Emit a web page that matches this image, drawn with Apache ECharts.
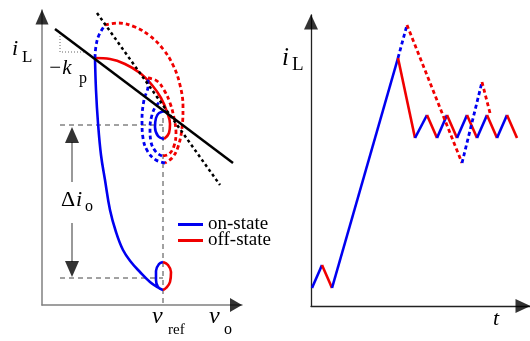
<!DOCTYPE html>
<html>
<head>
<meta charset="utf-8">
<script src="https://cdn.jsdelivr.net/npm/echarts@6/dist/echarts.min.js"></script>
<style>
  html, body { margin: 0; padding: 0; background: #fff; }
  #chart { width: 530px; height: 341px; }
</style>
</head>
<body>
<div id="chart"></div>
<script>
  // ---- left panel: phase plane (v_o, i_L), units ----
  var onSolid = [[53,247],[54,215],[56,182],[59,150],[63,125],[68,95],[74,73],[81,55],[89,43],[98,33],[108,23],[115,18],[121,15],[116,18],[114,25],[114,34],[117,41],[121,43]];
  var offSolidLoop = [[121,43],[126,40],[129,33],[128,23],[124,17],[121,15]];
  var offSolidArc = [[53,247],[68,246],[83,241],[98,232],[110,220],[119,207],[125,193],[128,181],[127,172],[122,166]];
  var onSolidLoop = [[122,166],[116,169],[113,178],[114,187],[117,192],[124,194]];
  var onDashOuter = [[53,247],[54,259],[57,270],[63,280]];
  var offDashOuter = [[63,280],[76,282],[93,278],[108,269],[121,256],[131,240],[138,220],[141,198],[140,177],[136,158],[130,147],[123,142]];
  var onDashMid = [[123,142],[114,145],[106,153],[101,167],[100,185],[102,205],[106,219],[106,227]];
  var offDashMid = [[106,227],[115,224],[122,215],[128,202],[132,187],[134,172],[132,159],[127,151],[120,149]];
  var onDashInner = [[120,149],[114,153],[109,163],[108,177],[110,190],[114,199],[119,204]];
  var droopLine = [[13,276],[191,142]];
  var dottedLine = [[55,292],[178,120]];
  var slopeMark = [[18,272],[18,253],[43,253]];
  var refGuides = [
    [[18,180],[121,180]],
    [[18,27],[121,27]],
    [[121,187],[121,0]]
  ];
  var deltaShafts = [[[30,123],[30,163]], [[30,82],[30,43]]];

  // ---- right panel: i_L(t) ----
  var solidT = [1,11,21,87,104,116,126,136,146,156,166,176,186,196,206];
  var solidI = [18,41,18,248,168,191,168,191,168,191,168,191,168,191,168];
  var dashT = [87,96,151,171,179];
  var dashI = [248,281,143,224,193];

  var BLUE = '#0000f0';
  var RED = '#f00000';

  function curve(name, pts, color, axis, opt) {
    opt = opt || {};
    return {
      type: 'line',
      name: name,
      xAxisIndex: axis,
      yAxisIndex: axis,
      data: pts,
      smooth: opt.smooth || false,
      showSymbol: false,
      silent: true,
      color: color,
      z: opt.z || 2,
      lineStyle: { color: color, width: opt.width || 2.6, type: opt.type || 'solid' }
    };
  }

  var series = [];
  var DASH = [4, 3];
  // guides
  refGuides.forEach(function (g) {
    series.push(curve('guide', g, '#444', 0, { width: 1, type: [5, 4] }));
  });
  series.push(curve('guide', slopeMark, '#666', 0, { width: 1, type: [1, 2] }));
  deltaShafts.forEach(function (s) {
    series.push(curve('guide', s, '#777', 0, { width: 1.5 }));
  });
  // straight lines
  series.push(curve('droop', droopLine, '#000', 0, { width: 2.5, z: 3 }));
  series.push(curve('droop', dottedLine, '#000', 0, { width: 2.5, type: [3, 3], z: 3 }));
  // trajectories
  series.push(curve('on-state', onSolid, BLUE, 0, { smooth: 0.4 }));
  series.push(curve('off-state', offSolidLoop, RED, 0, { smooth: 0.4 }));
  series.push(curve('off-state', offSolidArc, RED, 0, { smooth: 0.4 }));
  series.push(curve('on-state', onSolidLoop, BLUE, 0, { smooth: 0.4 }));
  series.push(curve('on-state', onDashOuter, BLUE, 0, { smooth: 0.4, type: DASH, width: 2.8 }));
  series.push(curve('off-state', offDashOuter, RED, 0, { smooth: 0.4, type: DASH, width: 2.8 }));
  series.push(curve('on-state', onDashMid, BLUE, 0, { smooth: 0.4, type: DASH, width: 2.8 }));
  series.push(curve('off-state', offDashMid, RED, 0, { smooth: 0.4, type: DASH, width: 2.8 }));
  series.push(curve('on-state', onDashInner, BLUE, 0, { smooth: 0.4, type: DASH, width: 2.8 }));

  // right panel: rising parts are on-state, falling parts off-state
  function addWave(t, v, dashed) {
    for (var i = 0; i < t.length - 1; i++) {
      var up = v[i + 1] > v[i];
      series.push(curve(up ? 'on-state' : 'off-state',
        [[t[i], v[i]], [t[i + 1], v[i + 1]]],
        up ? BLUE : RED, 1,
        dashed ? { type: DASH, width: 2.8 } : { width: 2.6 }));
    }
  }
  addWave(solidT, solidI, false);
  addWave(dashT, dashI, true);

  // arrow heads
  function heads(axis, items) {
    return {
      type: 'scatter', xAxisIndex: axis, yAxisIndex: axis, silent: true, z: 5,
      symbol: 'triangle', itemStyle: { color: '#000' },
      data: items
    };
  }
  series.push(heads(0, [
    { value: [0, 295], symbolSize: [13, 15], symbolOffset: [0, 7] },
    { value: [200, 0], symbolSize: [14, 12], symbolRotate: -90, symbolOffset: [-6, 0] },
    { value: [30, 178], symbolSize: [14, 16], symbolOffset: [0, 8] },
    { value: [30, 28], symbolSize: [14, 16], symbolRotate: 180, symbolOffset: [0, -8] }
  ]));
  series.push(heads(1, [
    { value: [0, 291], symbolSize: [14, 15], symbolOffset: [0, 7] },
    { value: [219, 0], symbolSize: [14, 15], symbolRotate: -90, symbolOffset: [-7, 0] }
  ]));

  function axisPair(idx, max, color, width) {
    return {
      gridIndex: idx, type: 'value', min: 0, max: max,
      axisLine: { show: true, onZero: false, lineStyle: { color: color, width: width } },
      axisTick: { show: false }, axisLabel: { show: false }, splitLine: { show: false }
    };
  }

  var SERIF = '"Liberation Serif", "DejaVu Serif", serif';
  function txt(x, y, s, size, italic) {
    return {
      type: 'text', x: x, y: y, silent: true,
      style: {
        text: s, fill: '#000', textVerticalAlign: 'middle',
        font: (italic ? 'italic ' : '') + size + 'px ' + SERIF
      }
    };
  }

  var chart = echarts.init(document.getElementById('chart'), null, { renderer: 'canvas' });
  chart.setOption({
    animation: false,
    backgroundColor: '#fff',
    grid: [
      { left: 42, top: 10, width: 200, height: 295 },
      { left: 311, top: 15, width: 219, height: 291 }
    ],
    xAxis: [axisPair(0, 200, '#808080', 1.5), axisPair(1, 219, '#222', 1.3)],
    yAxis: [axisPair(0, 295, '#808080', 1.5), axisPair(1, 291, '#222', 1.3)],
    legend: {
      orient: 'vertical', left: 178, top: 215, icon: 'rect', padding: 0,
      itemWidth: 25, itemHeight: 3, itemGap: -3, selectedMode: false,
      data: ['on-state', 'off-state'],
      textStyle: { fontFamily: SERIF, fontSize: 19, color: '#000' }
    },
    graphic: [
      txt(12, 49.5, 'i', 22, true),
      txt(22, 58, 'L', 17, false),
      txt(48, 68, '\u2212k', 21, true),
      txt(79, 78.5, 'p', 16, false),
      txt(61, 200.5, '\u0394', 22, false),
      txt(76, 200.5, 'i', 22, true),
      txt(85, 206.5, 'o', 16, false),
      txt(152, 317, 'v', 24, true),
      txt(168, 330, 'ref', 15, false),
      txt(209, 317, 'v', 24, true),
      txt(224, 329.5, 'o', 16, false),
      txt(282, 58.5, 'i', 25, true),
      txt(292, 65.5, 'L', 19, false),
      txt(493, 319.5, 't', 22, true)
    ],
    series: series
  });
</script>
</body>
</html>
